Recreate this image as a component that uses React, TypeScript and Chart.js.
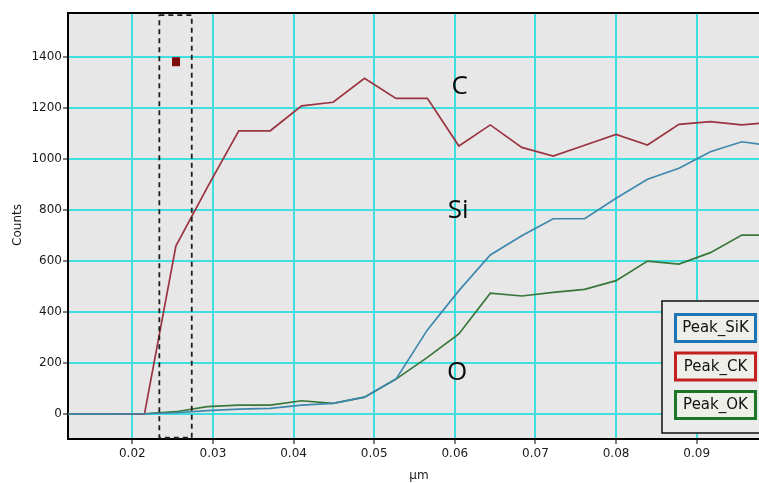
import React, { useEffect, useRef } from "react";
import { Chart, registerables } from "chart.js";

Chart.register(...registerables);

// Depth positions (µm) of each sampled point
const DEPTH_UM = [
  0.0098, 0.0137, 0.0176, 0.0215, 0.0254, 0.0293, 0.0332, 0.0371, 0.041, 0.0449, 0.0488, 0.0527,
  0.0566, 0.0605, 0.0644, 0.0683, 0.0722, 0.0761, 0.08, 0.0839, 0.0878, 0.0917, 0.0956, 0.0995,
];

// Peak counts per element
const PEAK_SIK = [
  0, 0, 0, 2, 6, 14, 20, 23, 36, 43, 67, 138, 331, 485, 625, 700, 767, 767, 847, 922, 965, 1030,
  1069, 1052,
];
const PEAK_CK = [
  0, 0, 0, 0, 660, 890, 1112, 1112, 1210, 1224, 1318, 1239, 1239, 1052, 1135, 1047, 1013, 1055,
  1098, 1056, 1137, 1148, 1135, 1146,
];
const PEAK_OK = [
  0, 0, 0, 2, 10, 30, 36, 36, 53, 43, 67, 138, 223, 315, 475, 464, 478, 490, 524, 601, 589, 634,
  703, 703,
];

const SERIES_NAMES = ["Peak_SiK", "Peak_CK", "Peak_OK"];

// Axis ranges and ticks
const X_MIN = 0.01202;
const X_MAX = 0.09773;
const Y_MIN = -97;
const Y_MAX = 1574;
const X_TICKS = [0.02, 0.03, 0.04, 0.05, 0.06, 0.07, 0.08, 0.09];
const Y_TICKS = [0, 200, 400, 600, 800, 1000, 1200, 1400];

// Selection window (dashed box) and cursor marker
const SEL_X = [0.02335, 0.02737];
const SEL_Y = [-92, 1566];
const CURSOR = { x: 0.02542, y: 1383 };

// Element labels placed on the plot
const ELEMENT_LABELS = [
  { text: "C", x: 0.0606, y: 1284 },
  { text: "Si", x: 0.0604, y: 797 },
  { text: "O", x: 0.0603, y: 162 },
];

const LINE_COLORS = ["#3f88ad", "#9a3440", "#38773a"];
const LEGEND_COLORS = ["#1f74b5", "#c4201f", "#1d7628"];
const GRID = "#40dede";
const PLOT_BG = "#e7e7e7";
const TICK_FONT = { family: "DejaVu Sans", size: 12 };

const decorPlugin = {
  id: "decor",
  beforeDraw(chart: any) {
    const { ctx, chartArea: a } = chart;
    ctx.save();
    ctx.fillStyle = PLOT_BG;
    ctx.fillRect(a.left, a.top, a.right - a.left + 20, a.bottom - a.top);
    ctx.restore();
  },
  afterDatasetsDraw(chart: any) {
    const { ctx, scales } = chart;
    const xs = scales.x;
    const ys = scales.y;
    const x1 = xs.getPixelForValue(SEL_X[0]);
    const x2 = xs.getPixelForValue(SEL_X[1]);
    const y1 = ys.getPixelForValue(SEL_Y[1]);
    const y2 = ys.getPixelForValue(SEL_Y[0]);
    ctx.save();
    ctx.strokeStyle = "#1e1e1e";
    ctx.lineWidth = 1.8;
    ctx.setLineDash([5, 4]);
    ctx.strokeRect(x1, y1, x2 - x1, y2 - y1);
    ctx.setLineDash([]);
    // cursor marker
    const cx = xs.getPixelForValue(CURSOR.x);
    const cy = ys.getPixelForValue(CURSOR.y);
    ctx.fillStyle = "#7e0d0d";
    ctx.fillRect(cx - 4, cy - 4.5, 8, 9);
    ctx.restore();
  },
  afterDraw(chart: any) {
    const { ctx, chartArea: a, scales } = chart;
    const xs = scales.x;
    const ys = scales.y;
    ctx.save();
    // top frame line
    ctx.strokeStyle = "#000";
    ctx.lineWidth = 2;
    ctx.beginPath();
    ctx.moveTo(a.left - 1, a.top);
    ctx.lineTo(a.right + 20, a.top);
    ctx.stroke();

    // element labels
    ctx.fillStyle = "#0a0a0a";
    ctx.font = "26px 'Open Sans'";
    ctx.textAlign = "center";
    ctx.textBaseline = "middle";
    for (const l of ELEMENT_LABELS) {
      ctx.fillText(l.text, xs.getPixelForValue(l.x), ys.getPixelForValue(l.y));
    }

    // axis titles
    ctx.font = "12px 'DejaVu Sans'";
    ctx.fillStyle = "#1a1a1a";
    ctx.fillText("µm", 419, 476);
    ctx.save();
    ctx.translate(18, 225);
    ctx.rotate(-Math.PI / 2);
    ctx.fillText("Counts", 0, 0);
    ctx.restore();

    // legend
    const lx = 662;
    const ly = 301;
    ctx.fillStyle = "#ebebeb";
    ctx.fillRect(lx, ly, 120, 132);
    ctx.strokeStyle = "#111";
    ctx.lineWidth = 1.5;
    ctx.strokeRect(lx, ly, 120, 132);
    ctx.font = "15px 'DejaVu Sans'";
    SERIES_NAMES.forEach((name, i) => {
      const top = 313 + i * 38.5;
      ctx.fillStyle = "#efefe9";
      ctx.fillRect(674, top, 83, 30);
      ctx.strokeStyle = LEGEND_COLORS[i];
      ctx.lineWidth = 3;
      ctx.strokeRect(675.5, top + 1.5, 80, 27);
      ctx.fillStyle = "#111";
      ctx.fillText(name, 715.5, top + 15.5);
    });
    ctx.restore();
  },
};

export default function App() {
  const canvasRef = useRef<HTMLCanvasElement | null>(null);

  useEffect(() => {
    const canvas = canvasRef.current;
    if (!canvas) return;
    const series = [PEAK_SIK, PEAK_CK, PEAK_OK];
    const chart = new Chart(canvas, {
      type: "line",
      data: {
        datasets: series.map((vals, i) => ({
          label: SERIES_NAMES[i],
          data: DEPTH_UM.map((x, j) => ({ x, y: vals[j] })),
          borderColor: LINE_COLORS[i],
          borderWidth: 1.7,
          pointRadius: 0,
          tension: 0,
          fill: false,
        })),
      },
      options: {
        animation: false,
        responsive: false,
        devicePixelRatio: 1,
        layout: { padding: { top: 13, right: 0, left: 0, bottom: 0 } },
        plugins: { legend: { display: false }, tooltip: { enabled: false } },
        scales: {
          x: {
            type: "linear",
            min: X_MIN,
            max: X_MAX,
            afterBuildTicks: (s: any) => {
              s.ticks = X_TICKS.map((v) => ({ value: v }));
            },
            afterFit: (s: any) => {
              s.height = 44;
            },
            ticks: {
              autoSkip: false,
              maxRotation: 0,
              padding: 3,
              color: "#1a1a1a",
              font: TICK_FONT,
              callback: (v: any) => Number(v).toFixed(2),
            },
            grid: { color: GRID, lineWidth: 2, tickColor: "#000", tickLength: 5, tickWidth: 1 },
            border: { color: "#000", width: 2 },
          },
          y: {
            type: "linear",
            min: Y_MIN,
            max: Y_MAX,
            afterBuildTicks: (s: any) => {
              s.ticks = Y_TICKS.map((v) => ({ value: v }));
            },
            afterFit: (s: any) => {
              s.width = 68;
            },
            ticks: {
              autoSkip: false,
              padding: 1,
              color: "#1a1a1a",
              font: TICK_FONT,
              callback: (v: any) => String(v),
            },
            grid: { color: GRID, lineWidth: 2, tickColor: "#000", tickLength: 5, tickWidth: 1 },
            border: { color: "#000", width: 2 },
          },
        },
      },
      plugins: [decorPlugin],
    });
    return () => chart.destroy();
  }, []);

  return (
    <div style={{ position: "absolute", left: 0, top: 0, width: 759, height: 483, background: "#fff" }}>
      <canvas ref={canvasRef} width={759} height={483} />
    </div>
  );
}
